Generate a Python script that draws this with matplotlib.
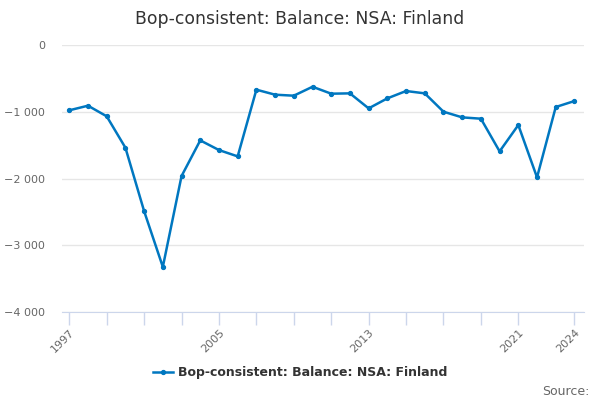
import matplotlib
matplotlib.use('Agg')
import matplotlib.pyplot as plt
from matplotlib.ticker import FuncFormatter

years = list(range(1997, 2025))
balance = [-976, -907, -1066, -1537, -2488, -3324, -1962, -1427, -1572, -1667,
           -667, -742, -757, -623, -727, -722, -947, -797, -687, -722,
           -997, -1082, -1102, -1592, -1197, -1982, -927, -837]

tick_years = list(range(1997, 2022, 2)) + [2024]
label_years = [1997, 2005, 2013, 2021, 2024]
y_ticks = [0, -1000, -2000, -3000, -4000]

line_color = '#0077c0'
grey = '#666666'

fig = plt.figure(figsize=(6, 4), dpi=100)
ax = fig.add_axes([0.103, 0.22, 0.87, 0.667])

ax.plot(years, balance, color=line_color, linewidth=1.8, marker='o', markersize=2.8,
        label='Bop-consistent: Balance: NSA: Finland')

ax.set_xlim(1996.6, 2024.5)
ax.set_ylim(-4000, 0)
ax.set_yticks(y_ticks)
ax.yaxis.set_major_formatter(FuncFormatter(
    lambda v, p: f'{int(v):,}'.replace(',', ' ').replace('-', '\u2212')))
ax.set_xticks(tick_years)
ax.set_xticklabels([str(y) if y in label_years else '' for y in tick_years],
                   rotation=45, ha='right', rotation_mode='anchor')

ax.grid(axis='y', color='#e6e6e6', linewidth=1)
ax.set_axisbelow(True)
for s in ['top', 'right', 'left']:
    ax.spines[s].set_visible(False)
ax.spines['bottom'].set_color('#ccd6eb')
ax.tick_params(axis='x', colors='#ccd6eb', length=9, width=1, labelcolor=grey,
               labelsize=8, pad=2)
ax.tick_params(axis='y', length=0, labelcolor=grey, labelsize=8, pad=12)

fig.suptitle('Bop-consistent: Balance: NSA: Finland', x=0.5, y=0.975,
             fontsize=12.4, color='#333333')

leg = fig.legend(loc='center', bbox_to_anchor=(0.5, 0.068), frameon=False,
                 prop={'weight': 'bold', 'size': 9}, handlelength=1.6,
                 handletextpad=0.4, labelcolor='#333333')

fig.text(0.982, 0.022, 'Source:', ha='right', va='center', color=grey, fontsize=9)

fig.savefig('out.png', dpi=100)
